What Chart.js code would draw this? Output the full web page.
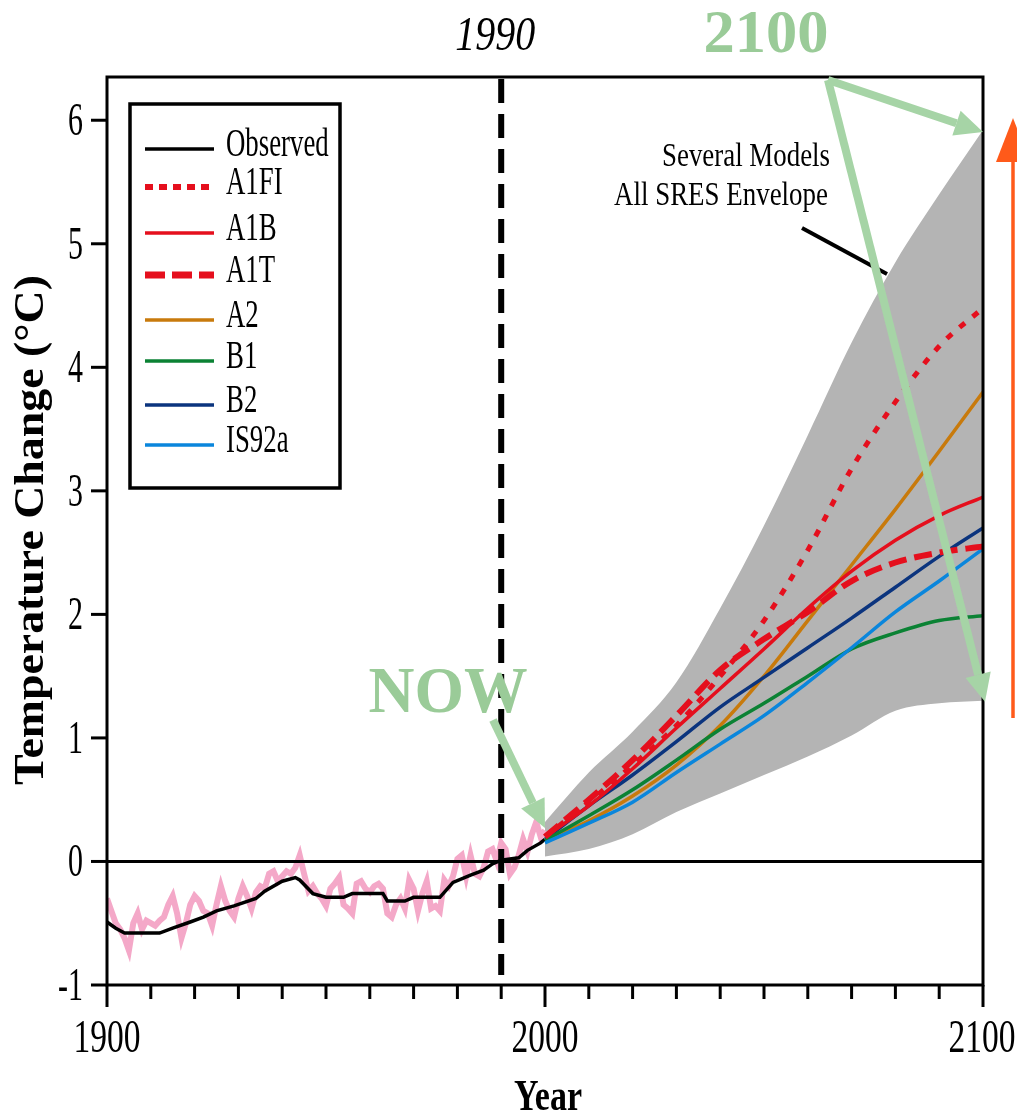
<!DOCTYPE html>
<html>
<head>
<meta charset="utf-8">
<script src="https://cdn.jsdelivr.net/npm/chart.js@4.4.0/dist/chart.umd.min.js"></script>
<style>
html, body { margin: 0; padding: 0; background: #fff; }
canvas { display: block; }
</style>
</head>
<body>
<canvas id="chart" width="1017" height="1117"></canvas>
<script>
// projections, one value per decade
const decades = [2000, 2010, 2020, 2030, 2040, 2050, 2060, 2070, 2080, 2090, 2100];
const a1fi  = [0.20, 0.48, 0.78, 1.10, 1.50, 1.95, 2.52, 3.18, 3.72, 4.17, 4.48];
const a1b   = [0.20, 0.45, 0.75, 1.08, 1.40, 1.72, 2.05, 2.35, 2.60, 2.80, 2.95];
const a1t   = [0.20, 0.50, 0.82, 1.18, 1.55, 1.80, 2.02, 2.27, 2.42, 2.50, 2.55];
const a2    = [0.17, 0.33, 0.53, 0.78, 1.10, 1.50, 1.95, 2.40, 2.85, 3.32, 3.80];
const b1    = [0.17, 0.37, 0.58, 0.82, 1.07, 1.28, 1.50, 1.72, 1.85, 1.95, 1.99];
const b2    = [0.18, 0.45, 0.70, 0.97, 1.25, 1.49, 1.73, 1.97, 2.22, 2.47, 2.70];
const is92a = [0.15, 0.31, 0.48, 0.72, 0.95, 1.18, 1.45, 1.73, 2.02, 2.27, 2.53];
const envHigh = [0.32, 0.72, 1.05, 1.45, 2.05, 2.72, 3.45, 4.20, 4.85, 5.40, 5.92];
const envLow  = [0.04, 0.10, 0.22, 0.40, 0.55, 0.70, 0.85, 1.02, 1.22, 1.28, 1.30];

// observed, smoothed
const obsYears = [1900, 1902, 1904, 1908, 1912, 1915, 1919, 1922, 1925, 1929, 1934, 1936, 1940, 1943, 1944,
    1947, 1950, 1954, 1956, 1963, 1964, 1968, 1970, 1976, 1979, 1983, 1986, 1988, 1990, 1994, 1996, 1999, 2000];
const observed = [-0.49, -0.54, -0.58, -0.58, -0.58, -0.54, -0.49, -0.45, -0.40, -0.36, -0.30, -0.24, -0.16, -0.13, -0.15,
    -0.26, -0.29, -0.29, -0.26, -0.26, -0.32, -0.32, -0.29, -0.29, -0.17, -0.11, -0.07, -0.02, 0.01, 0.03, 0.09, 0.15, 0.18];

// observed, yearly 1900..2000
const annualYears = Array.from({ length: 101 }, (_, i) => 1900 + i);
const annual = [
    -0.30, -0.40, -0.50, -0.55, -0.62, -0.72, -0.50, -0.42, -0.55, -0.48,
    -0.50, -0.52, -0.48, -0.45, -0.35, -0.28, -0.42, -0.62, -0.50, -0.35,
    -0.28, -0.32, -0.40, -0.42, -0.52, -0.35, -0.20, -0.32, -0.40, -0.45,
    -0.30, -0.20, -0.28, -0.38, -0.25, -0.20, -0.22, -0.10, -0.08, -0.16,
    -0.12, -0.08, -0.10, -0.05, 0.05, -0.10, -0.24, -0.20, -0.26, -0.30,
    -0.36, -0.22, -0.18, -0.13, -0.35, -0.38, -0.42, -0.18, -0.16, -0.22,
    -0.25, -0.20, -0.18, -0.22, -0.42, -0.45, -0.35, -0.30, -0.38, -0.15,
    -0.22, -0.40, -0.26, -0.16, -0.38, -0.36, -0.40, -0.15, -0.20, -0.12,
    0.02, 0.05, -0.12, 0.05, -0.10, -0.12, -0.05, 0.08, 0.10, 0.00,
    0.15, 0.10, -0.10, -0.05, 0.05, 0.18, 0.08, 0.22, 0.32, 0.20, 0.25
];

const xTicks = [1900, 1910, 1920, 1930, 1940, 1950, 1960, 1970, 1980, 1990, 2000,
    2010, 2020, 2030, 2040, 2050, 2060, 2070, 2080, 2090, 2100];
const xTickLabels = ['1900', '2000', '2100'];
const yTicks = [-1, 0, 1, 2, 3, 4, 5, 6];
const legendOrder = ['Observed', 'A1FI', 'A1B', 'A1T', 'A2', 'B1', 'B2', 'IS92a'];

const RED = '#e50f1d';
const SERIF = '"Liberation Serif", "Times New Roman", serif';

const pts = (xs, ys) => xs.map((x, i) => ({ x, y: ys[i] }));

function scenario(label, values, color, extra) {
    return Object.assign({
        label,
        data: pts(decades, values),
        borderColor: color,
        borderWidth: 3.5,
        pointRadius: 0,
        cubicInterpolationMode: 'monotone',
        fill: false
    }, extra || {});
}

function text(ctx, str, x, y, font, opts = {}) {
    ctx.save();
    ctx.font = font;
    ctx.fillStyle = opts.color || '#000';
    ctx.textBaseline = 'alphabetic';
    ctx.textAlign = 'left';
    ctx.translate(x, y);
    if (opts.rotate) ctx.rotate(opts.rotate);
    const w = ctx.measureText(str).width;
    const sx = opts.width ? opts.width / w : (opts.sx || 1);
    ctx.scale(sx, 1);
    let dx = 0;
    if (opts.align === 'center') dx = -w / 2;
    else if (opts.align === 'right') dx = -w;
    ctx.fillText(str, dx, 0);
    ctx.restore();
}

function arrow(ctx, x1, y1, x2, y2, color, lw, headLen, headHalf) {
    const a = Math.atan2(y2 - y1, x2 - x1);
    const bx = x2 - headLen * Math.cos(a), by = y2 - headLen * Math.sin(a);
    ctx.save();
    ctx.strokeStyle = color;
    ctx.fillStyle = color;
    ctx.lineWidth = lw;
    ctx.beginPath(); ctx.moveTo(x1, y1); ctx.lineTo(bx, by); ctx.stroke();
    ctx.beginPath();
    ctx.moveTo(x2, y2);
    ctx.lineTo(bx + headHalf * Math.sin(a), by - headHalf * Math.cos(a));
    ctx.lineTo(bx - headHalf * Math.sin(a), by + headHalf * Math.cos(a));
    ctx.closePath();
    ctx.fill();
    ctx.restore();
}

function seg(ctx, x1, y1, x2, y2) {
    ctx.beginPath(); ctx.moveTo(x1, y1); ctx.lineTo(x2, y2); ctx.stroke();
}

const axesPlugin = {
    id: 'axesPlugin',
    afterDatasetsDraw(chart) {
        const { ctx, chartArea: a, scales: { x, y } } = chart;
        ctx.save();
        ctx.strokeStyle = '#000';
        ctx.lineCap = 'butt';

        ctx.lineWidth = 3;
        const y0 = y.getPixelForValue(0);
        seg(ctx, a.left, y0, a.right, y0);

        const x90 = x.getPixelForValue(1990);
        ctx.lineWidth = 6;
        ctx.setLineDash([24, 11]);
        seg(ctx, x90, a.top + 2, x90, a.bottom - 10);
        ctx.setLineDash([]);

        ctx.lineWidth = 3;
        ctx.strokeRect(a.left, a.top, a.right - a.left, a.bottom - a.top);

        xTicks.forEach(v => {
            const px = x.getPixelForValue(v);
            seg(ctx, px, a.bottom, px, a.bottom + (v % 100 === 0 ? 22 : 14));
        });
        yTicks.forEach(v => {
            const py = y.getPixelForValue(v);
            seg(ctx, a.left - 16, py, a.left, py);
            text(ctx, String(v), a.left - 24, py + 15, '46px ' + SERIF, { align: 'right', sx: 0.65 });
        });
        xTickLabels.forEach(s => {
            const px = x.getPixelForValue(+s);
            text(ctx, s, Math.min(px, 982), a.bottom + 67, '46px ' + SERIF, { align: 'center', width: 67 });
        });

        text(ctx, 'Year', (a.left + a.right) / 2 + 3, 1110, 'bold 45px ' + SERIF, { align: 'center', width: 68 });
        text(ctx, 'Temperature Change (°C)', 43, 530, 'bold 42px ' + SERIF,
            { align: 'center', rotate: -Math.PI / 2, width: 510 });
        text(ctx, '1990', x90 - 6, 50, 'italic 48px ' + SERIF, { align: 'center', width: 80 });
        ctx.restore();
    },
    afterDraw(chart) {
        const { ctx, scales: { x, y } } = chart;
        const sets = chart.data.datasets;

        // legend box
        ctx.save();
        ctx.fillStyle = '#fff';
        ctx.fillRect(130, 104, 210, 384);
        ctx.strokeStyle = '#000';
        ctx.lineWidth = 3.5;
        ctx.strokeRect(130, 104, 210, 384);
        const rowY = [149, 187, 233, 275, 320, 361, 405, 445];
        legendOrder.forEach((name, i) => {
            const ds = sets.find(d => d.label === name);
            ctx.save();
            ctx.strokeStyle = ds.borderColor;
            ctx.lineWidth = ds.legendWidth || 3.5;
            ctx.setLineDash(ds.legendDash || []);
            seg(ctx, 145, rowY[i], 214, rowY[i]);
            ctx.restore();
            text(ctx, name, 226, rowY[i] + 7, '40px ' + SERIF, { sx: 0.67 });
        });

        // envelope note
        text(ctx, 'Several Models', 830, 166, '33px ' + SERIF, { align: 'right', width: 168 });
        text(ctx, 'All SRES Envelope', 828, 205, '33px ' + SERIF, { align: 'right', width: 214 });
        ctx.lineWidth = 4;
        ctx.strokeStyle = '#000';
        seg(ctx, 802, 228, 887, 274);

        // overlay annotations
        const green = '#a6d4a6';
        const x2100 = x.getPixelForValue(2100);
        arrow(ctx, 828, 80, x2100, y.getPixelForValue(envHigh[envHigh.length - 1]) + 2, green, 8, 28, 13);
        arrow(ctx, 828, 80, x2100 + 2, y.getPixelForValue(envLow[envLow.length - 1]) + 1, green, 8, 28, 13);
        arrow(ctx, 493, 720, x.getPixelForValue(2000), y.getPixelForValue(0.27), green, 8, 28, 13);
        text(ctx, '2100', 766, 52, 'bold 62px ' + SERIF, { align: 'center', color: '#9acb98', width: 125 });
        text(ctx, 'NOW', 448, 712, 'bold 66px ' + SERIF, { align: 'center', color: '#9acb98', width: 159 });

        arrow(ctx, 1013, 718, 1013, 118, '#ff5a1a', 3.5, 44, 17);
        ctx.restore();
    }
};

new Chart(document.getElementById('chart'), {
    type: 'line',
    data: {
        datasets: [
            scenario('A1FI', a1fi, RED, { borderWidth: 5, borderDash: [7, 10], legendDash: [8, 6], legendWidth: 6 }),
            scenario('A1T', a1t, RED, { borderWidth: 6, borderDash: [18, 8], legendDash: [20, 7], legendWidth: 7 }),
            scenario('A1B', a1b, RED),
            scenario('IS92a', is92a, '#0a86dc'),
            scenario('B1', b1, '#0b8234'),
            scenario('B2', b2, '#0b347e'),
            scenario('A2', a2, '#c87a0c'),
            {
                label: 'Observed',
                data: pts(obsYears, observed),
                borderColor: '#000',
                borderWidth: 3.5,
                pointRadius: 0,
                tension: 0,
                fill: false
            },
            {
                label: 'annual',
                data: pts(annualYears, annual),
                borderColor: '#f4a8c8',
                borderWidth: 6,
                pointRadius: 0,
                tension: 0,
                fill: false
            },
            {
                label: 'envelope',
                data: pts(decades, envHigh),
                borderWidth: 0,
                borderColor: 'rgba(0,0,0,0)',
                backgroundColor: '#b4b4b4',
                pointRadius: 0,
                cubicInterpolationMode: 'monotone',
                fill: '+1'
            },
            {
                label: 'envelope low',
                data: pts(decades, envLow),
                borderWidth: 0,
                borderColor: 'rgba(0,0,0,0)',
                pointRadius: 0,
                cubicInterpolationMode: 'monotone',
                fill: false
            }
        ]
    },
    options: {
        responsive: false,
        animation: false,
        layout: { padding: { left: 107, right: 34, top: 77, bottom: 132 } },
        plugins: { legend: { display: false }, tooltip: { enabled: false } },
        scales: {
            x: { type: 'linear', min: 1900, max: 2100, display: false },
            y: { type: 'linear', min: -1, max: 6.35, display: false }
        }
    },
    plugins: [axesPlugin]
});
</script>
</body>
</html>
